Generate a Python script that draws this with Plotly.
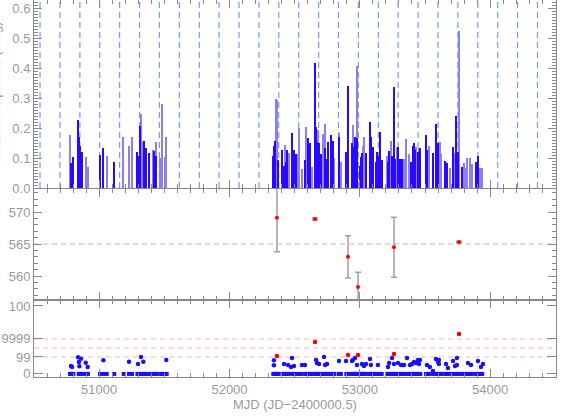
import plotly.graph_objects as go
from plotly.subplots import make_subplots

# ---------------- data ----------------
# top panel: amplitude bars (MJD, height) in two shades
dark_mjd = [50784, 50802, 50843, 50848, 50853, 50861, 50871, 51006, 51032, 51116,
            51293, 51300, 51313, 51349, 51359, 51382, 51423, 51441,
            52336, 52344, 52351, 52373, 52405, 52418, 52436, 52443, 52482, 52497, 52510,
            52581, 52607, 52617, 52658, 52664, 52674, 52689, 52700, 52738, 52748, 52761,
            52781, 52792, 52838, 52896, 52909, 52940, 52955, 52968, 52976, 52999, 53009,
            53016, 53047, 53076, 53083, 53091, 53103, 53122, 53134, 53142, 53155, 53168,
            53218, 53226, 53252, 53262, 53272, 53298, 53308, 53323, 53392, 53410, 53418,
            53425, 53446, 53464, 53507, 53517, 53564, 53584, 53602, 53656, 53674, 53717,
            53743, 53751, 53786, 53889, 53899, 53909]
dark_h = [0.083, 0.105, 0.227, 0.17, 0.14, 0.113, 0.12, 0.11, 0.133, 0.087,
          0.12, 0.107, 0.207, 0.157, 0.133, 0.117, 0.123, 0.107,
          0.107, 0.14, 0.157, 0.093, 0.127, 0.073, 0.087, 0.127, 0.183, 0.127, 0.113,
          0.093, 0.167, 0.15, 0.417, 0.203, 0.153, 0.15, 0.113, 0.133, 0.097, 0.153,
          0.177, 0.157, 0.17, 0.12, 0.34, 0.15, 0.137, 0.17, 0.167, 0.073, 0.103,
          0.117, 0.117, 0.077, 0.22, 0.17, 0.137, 0.087, 0.12, 0.107, 0.187, 0.095,
          0.087, 0.123, 0.107, 0.338, 0.097, 0.137, 0.097, 0.097, 0.087, 0.14, 0.15,
          0.127, 0.12, 0.133, 0.177, 0.127, 0.117, 0.213, 0.15, 0.09, 0.083, 0.137,
          0.24, 0.12, 0.07, 0.087, 0.053, 0.107]

light_mjd = [50776, 50792, 50899, 50914, 51058, 51188, 51229, 51252, 51321, 51339,
             51411, 51434, 51469, 51482, 51503, 51518,
             52359, 52366, 52426, 52456, 52525, 52538, 52554, 52589, 52635, 52681, 52717,
             52733, 52804, 52845, 52855, 52947, 52983, 53026, 53032, 53211, 53244, 53287,
             53339, 53359, 53379, 53436, 53454, 53536, 53594, 53613, 53628, 53666, 53697,
             53735, 53761, 53801, 53817, 53824, 53845, 53860, 53927, 53939]
light_h = [0.177, 0.08, 0.103, 0.07, 0.107, 0.17, 0.14, 0.17, 0.247, 0.153,
           0.127, 0.153, 0.10, 0.28, 0.103, 0.17,
           0.297, 0.295, 0.143, 0.117, 0.113, 0.2, 0.063, 0.203, 0.07, 0.193, 0.18,
           0.213, 0.1, 0.183, 0.087, 0.21, 0.407, 0.14, 0.17, 0.107, 0.157, 0.137,
           0.097, 0.163, 0.113, 0.137, 0.135, 0.14, 0.133, 0.153, 0.113, 0.087, 0.067,
           0.117, 0.523, 0.083, 0.067, 0.1, 0.1, 0.08, 0.067, 0.067]

# vertical reference lines (MJD)
ref_lines = [50546, 50699, 50852, 51004, 51157, 51310, 51462, 51615, 51768, 51920,
             52073, 52226, 52378, 52531, 52684, 52836, 52989, 53142, 53294, 53447,
             53600, 53752, 53905, 54058, 54210, 54363]

# middle panel: period estimates with errors
mid_mjd = [52364, 52656, 52909, 52986, 53262, 53761]
mid_val = [569.1, 568.9, 563.0, 558.3, 564.5, 565.3]
mid_err = [5.3, 0.15, 3.3, 2.3, 4.7, 0.12]
mid_ref = 565.0

# bottom panel (axis positions of the labelled levels)
bot_tickvals = [0, 1, 2.06, 4]
bot_ticktext = ["0", "99", "9999", "100"]
bot_lines = [1, 1.53, 2.06]

blue_mjd = [50784, 50792, 50838, 50845, 50861, 50848, 50897, 50912, 51032, 51229,
            51298, 51321, 51339, 51515,
            52341, 52341, 52418, 52449, 52480, 52472, 52495, 52556, 52579, 52664,
            52671, 52687, 52725, 52733, 52748, 52840, 52894, 52940, 52947, 52963,
            52978, 53016, 53032, 53047, 53078, 53085, 53139,
            53216, 53224, 53247, 53262, 53293, 53316, 53331, 53339, 53362, 53385,
            53400, 53415, 53431, 53446, 53461, 53454, 53515, 53538, 53561, 53584,
            53600, 53607, 53607, 53661, 53676, 53715, 53730, 53745, 53745, 53830,
            53853, 53906, 53929, 53945]
blue_val = [0.47, 0.41, 0.98, 0.7, 0.9, 0.45, 0.66, 0.41, 0.8, 0.72,
            0.59, 1.0, 0.72, 0.82,
            0.8, 0.51, 0.59, 0.53, 0.94, 0.41, 0.47, 0.53, 0.53, 0.82,
            0.65, 0.59, 1.0, 0.53, 0.59, 0.76, 0.76, 0.76, 0.82, 0.94,
            0.53, 0.59, 0.47, 0.59, 0.88, 0.53, 0.53,
            0.41, 0.65, 0.94, 0.59, 0.65, 0.53, 0.53, 0.53, 0.94, 0.53,
            0.59, 0.7, 0.65, 0.82, 0.82, 0.59, 0.53, 0.41, 0.18, 0.88,
            0.7, 0.82, 0.59, 0.59, 0.35, 0.76, 0.47, 0.94, 0.53, 0.65,
            0.53, 0.76, 0.41, 0.59]
red_mjd = [52364, 52656, 52909, 52986, 53262, 53761]
red_val = [1.06, 1.88, 1.12, 1.12, 1.18, 2.35]

zero_mjd = sorted(dark_mjd + light_mjd)
zero_val = [0 for _ in zero_mjd]

x_range = [50500, 54505]

# ---------------- figure ----------------
DARK = "#2a0aff"
LIGHT = "#8d7ef2"
AX = "#8a8a8a"
TXT = "#9a9a9a"
FONT = "Liberation Sans"

fig = make_subplots(rows=3, cols=1, shared_xaxes=True, vertical_spacing=0)

fig.add_trace(go.Bar(x=light_mjd, y=light_h, width=11, marker=dict(color=LIGHT, line=dict(width=0)),
                     showlegend=False), row=1, col=1)
fig.add_trace(go.Bar(x=dark_mjd, y=dark_h, width=11, marker=dict(color=DARK, line=dict(width=0)),
                     showlegend=False), row=1, col=1)

for xv in ref_lines:
    fig.add_shape(type="line", x0=xv, x1=xv, y0=0, y1=1, xref="x", yref="y domain",
                  line=dict(color="#6f9df2", width=1.2, dash="6px,4px"), layer="below")

fig.add_trace(go.Scatter(x=mid_mjd, y=mid_val, mode="markers",
                         marker=dict(color="#ff0000", size=4),
                         error_y=dict(type="data", array=mid_err, color="#a0a0a0", thickness=1.5, width=3),
                         cliponaxis=True, showlegend=False), row=2, col=1)
fig.add_shape(type="line", x0=0, x1=1, y0=mid_ref, y1=mid_ref, xref="x2 domain", yref="y2",
              line=dict(color="#f4a5a5", width=1.2, dash="5px,4px"), layer="below")

for yv in bot_lines:
    fig.add_shape(type="line", x0=0, x1=1, y0=yv, y1=yv, xref="x3 domain", yref="y3",
                  line=dict(color="#f6b8b8", width=1, dash="5px,4px"), layer="below")

fig.add_trace(go.Scatter(x=zero_mjd, y=zero_val, mode="markers",
                         marker=dict(color="#1a10ff", size=4, symbol="square"),
                         showlegend=False), row=3, col=1)
fig.add_trace(go.Scatter(x=blue_mjd, y=blue_val, mode="markers",
                         marker=dict(color="#1a10ff", size=4.5),
                         showlegend=False), row=3, col=1)
fig.add_trace(go.Scatter(x=red_mjd, y=red_val, mode="markers",
                         marker=dict(color="#ff0000", size=4.5),
                         showlegend=False), row=3, col=1)

common = dict(showline=True, linecolor=AX, linewidth=1, mirror="ticks", ticks="inside",
              tickcolor=AX, showgrid=False, zeroline=False,
              tickfont=dict(family=FONT, size=13, color=TXT))

xcommon = dict(common, range=x_range, tickmode="linear", tick0=0, dtick=1000, ticklen=8,
               tickformat="d",
               minor=dict(dtick=100, tick0=0, ticklen=4, ticks="inside", tickcolor=AX, showgrid=False))
fig.update_layout(
    xaxis=dict(xcommon, showticklabels=False),
    xaxis2=dict(xcommon, showticklabels=False),
    xaxis3=dict(xcommon, showticklabels=True,
                title=dict(text="MJD (JD\u22122400000.5)", font=dict(family=FONT, size=13, color=TXT),
                           standoff=2)),
    yaxis=dict(common, domain=[0.5013, 1.0], range=[0, 0.627], tickmode="linear", tick0=0, dtick=0.1,
               tickformat=".1f", ticklen=8,
               minor=dict(dtick=0.01, tick0=0, ticklen=4, ticks="inside", tickcolor=AX, showgrid=False)),
    yaxis2=dict(common, domain=[0.2042, 0.4987], range=[556.25, 573.6], tickmode="linear", tick0=0,
                dtick=5, ticklen=8,
                minor=dict(dtick=1, tick0=0, ticklen=4, ticks="inside", tickcolor=AX, showgrid=False)),
    yaxis3=dict(common, domain=[0, 0.2042], range=[-0.18, 4.35], tickmode="array",
                tickvals=bot_tickvals, ticktext=bot_ticktext, ticklen=9),
    barmode="overlay",
    bargap=0,
    width=568, height=419,
    margin=dict(l=34, r=12, t=0, b=42),
    paper_bgcolor="white", plot_bgcolor="white",
    font=dict(family=FONT, size=13, color=TXT),
)

fig.add_annotation(text="Relative amplitude (mag)", xref="paper", yref="paper", x=0, y=0.75,
                   xshift=-39, textangle=-90, showarrow=False,
                   font=dict(family=FONT, size=13, color=TXT), xanchor="center", yanchor="middle")

fig.write_html("out.html", config={"displayModeBar": False},
               post_script="document.body.style.margin='0';document.body.style.padding='0';")
